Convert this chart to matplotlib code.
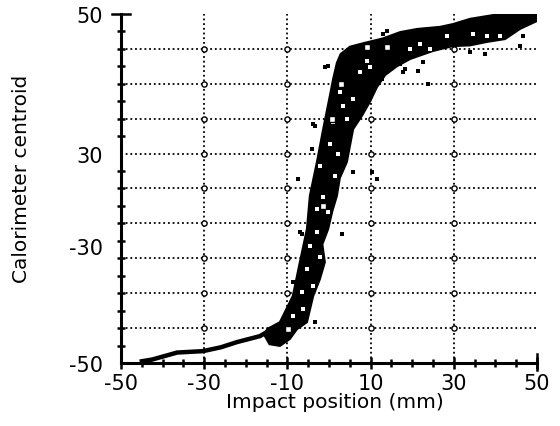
#!/usr/bin/env python3
# Calorimeter centroid vs impact position (scanned scatter, recreated)

import numpy as np
import matplotlib
matplotlib.use("Agg")
import matplotlib.pyplot as plt

# -----------------------------
# Data
# -----------------------------
# outline of the dense band of points (right side up, arm, back, left side down)
band_x = [-11.8, -9.4, -7.7, -5.3, -3.8, -2.2, -1.0, -1.6, -0.2, 0.8, 1.9, 2.6,
          4.3, 5.8, 8.0, 9.9, 11.5, 13.5, 16.3, 19.5, 25.0, 29.8, 33.9, 38.0,
          42.3, 45.9, 50.0,
          50.0, 45.9, 41.1, 38.0, 33.9, 29.8, 26.7, 21.2, 17.1, 13.0, 8.2, 5.0,
          2.8, 1.9, 1.0, 0.2, -1.4, -2.9, -4.6, -5.3, -7.0, -8.7, -11.8, -14.9, -15.4, -14.3]
band_y = [-45.1, -43.1, -40.3, -38.3, -30.8, -26.0, -21.1, -16.0, -11.6, -6.5, -2.1, 3.0,
          7.6, 17.0, 21.0, 25.0, 29.0, 32.5, 35.0, 37.1, 39.4, 40.8, 41.0, 42.0,
          42.8, 45.7, 48.0,
          50.0, 50.0, 50.0, 49.4, 48.6, 47.1, 46.3, 45.7, 44.8, 43.0, 41.6, 40.6,
          38.5, 36.0, 31.4, 26.5, 17.0, 7.6, -2.1, -11.6, -21.1, -30.8, -38.3, -40.3, -42.3, -44.6]

# light gaps inside the band
hole_x = [0.2, 2.2, -2.2, 1.4, -1.4, -2.9, -0.2, -2.9, -4.6, -2.2, -5.3, -3.8, -6.5,
          -6.3, -8.7, -10.1, 3.4, 5.8, 2.6, 7.5, 9.9, 9.1, 19.5, 21.9, 24.3, 34.6,
          38.0, 41.1, 28.4, 1.0, 4.3]
hole_y = [12.8, 9.9, 6.4, 3.6, -2.4, -5.9, -6.7, -12.5, -16.5, -19.6, -23.1, -27.9, -29.7,
          -34.5, -36.5, -40.3, 23.6, 25.6, 27.7, 33.4, 34.8, 36.5, 40.0, 41.4, 40.0, 44.3,
          43.7, 43.7, 43.7, 19.1, 19.9]

# low-position tail
tail_x = [-45.5, -42.5, -36.5, -30.3, -26.0, -22.1, -16.6, -14.9, -13.5]
tail_y = [-49.6, -49.0, -47.0, -46.6, -45.5, -44.0, -42.3, -41.1, -40.0]

# isolated points around the band
speck_x = [13.0, -1.0, -3.4, -4.1, -7.5, -2.2, 5.8, 10.3, 12.7, 15.4, -7.0, -5.3,
           3.1, -8.7, -3.4, -3.8, 11.5, -6.5, -2.2, 13.9, 17.8, -0.2, 18.3, 21.4,
           17.1, 23.8, 37.5, 45.9, 22.6, 33.9, 17.8, 46.6, 12.3, -13.7]
speck_y = [44.3, 34.8, 17.9, 11.3, 2.7, 3.6, 4.7, 4.7, 31.4, 34.8, -12.5, -14.5,
           -13.0, -26.8, -38.3, 18.5, 2.7, -13.0, 7.6, 45.1, 44.3, 35.1, 34.2, 33.7,
           35.7, 29.9, 38.5, 40.8, 36.2, 39.1, 33.4, 43.7, 31.4, -44.2]

# open squares inside the band
square_x = [0.7, 9.1, 13.9, -9.9, -1.5, 3.0]
square_y = [19.9, 40.5, 40.5, -40.3, -5.0, 30.0]

x_ticks = [-50, -30, -10, 10, 30, 50]
x_labels = ["-50", "-30", "-10", "10", "30", "50"]
y_label_pos = [50, 10, -16.5, -50]
y_labels = ["50", "30", "-30", "-50"]
grid_x = [-30, -10, 10, 30]
grid_y = [-40, -30, -20, -10, 0, 10, 20, 30, 40]


def main():
    fig = plt.figure(figsize=(5.6, 4.27), dpi=100)
    ax = fig.add_axes([0.216, 0.1475, 0.743, 0.8175])

    # dotted grid with small open circles at the crossings
    for gx in grid_x:
        ax.axvline(gx, color="black", lw=1.3, ls=(0, (1, 1.6)), zorder=1)
    for gy in grid_y:
        ax.axhline(gy, color="black", lw=1.3, ls=(0, (1, 1.6)), zorder=1)
    gxx, gyy = np.meshgrid(grid_x, grid_y)
    ax.scatter(gxx.ravel(), gyy.ravel(), s=14, facecolors="white",
               edgecolors="black", linewidths=1.0, zorder=2)

    # data
    ax.fill(band_x, band_y, color="black", lw=1.5, zorder=3)
    ax.scatter(hole_x, hole_y, s=5, marker="s", color="white", lw=0, zorder=3.5)
    ax.plot(tail_x, tail_y, color="black", lw=3.2, solid_capstyle="butt", zorder=3)
    ax.scatter(speck_x, speck_y, s=5, marker="s", color="black", lw=0, zorder=3)
    ax.scatter(square_x, square_y, s=16, marker="s", facecolors="white",
               edgecolors="black", linewidths=1.0, zorder=4)

    # axes
    ax.set_xlim(-50, 50)
    ax.set_ylim(-50, 50)
    for side in ["top", "right"]:
        ax.spines[side].set_visible(False)
    for side in ["left", "bottom"]:
        ax.spines[side].set_linewidth(2.2)

    ax.set_xticks(x_ticks, x_labels)
    ax.set_xticks(np.arange(-50, 51, 5), minor=True)
    ax.set_yticks(y_label_pos, y_labels)
    ax.set_yticks(np.arange(-50, 51, 5), minor=True)
    ax.tick_params(axis="x", which="major", direction="inout", length=9,
                   width=1.8, labelsize=15, pad=3)
    ax.tick_params(axis="x", which="minor", direction="inout", length=6, width=1.8)
    ax.tick_params(axis="y", which="major", length=0, labelsize=15, pad=13)
    ax.tick_params(axis="y", which="minor", direction="inout", length=6, width=1.8)

    # end caps of the axes
    ax.plot([-0.022, 0.022], [1, 1], transform=ax.transAxes, color="black",
            lw=1.8, clip_on=False)
    ax.plot([1, 1], [-0.02, 0.025], transform=ax.transAxes, color="black",
            lw=1.8, clip_on=False)

    ax.set_xlabel("Impact position (mm)", fontsize=14.5, va="center")
    ax.xaxis.set_label_coords(0.514, -0.109)
    ax.set_ylabel("Calorimeter centroid", fontsize=14.5, va="center")
    ax.yaxis.set_label_coords(-0.238, 0.53)

    fig.savefig("out.png", dpi=100)
    plt.close(fig)


if __name__ == "__main__":
    main()
